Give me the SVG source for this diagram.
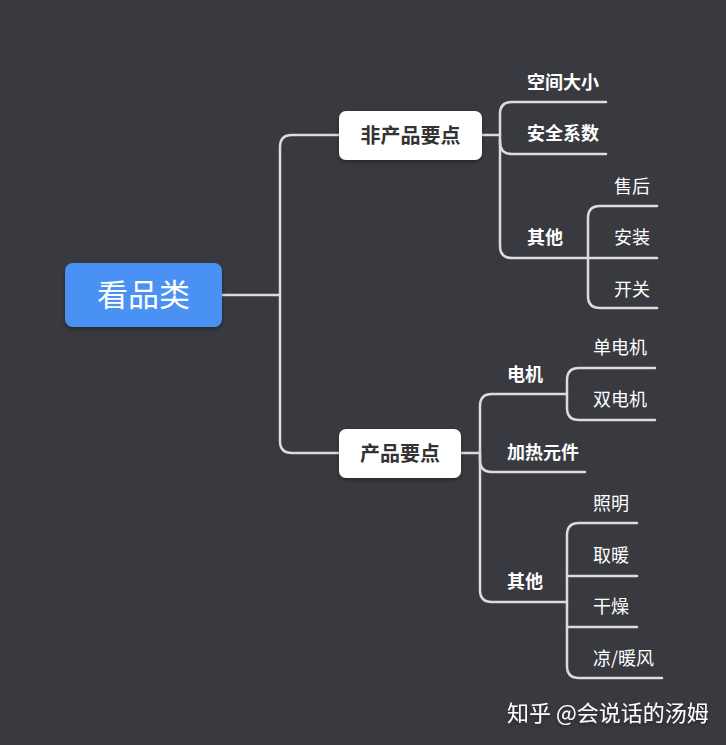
<svg xmlns="http://www.w3.org/2000/svg" width="726" height="745" viewBox="0 0 726 745">
<defs>
<filter id="sh" x="-20%" y="-20%" width="140%" height="150%"><feDropShadow dx="0" dy="2" stdDeviation="2" flood-color="#000" flood-opacity="0.35"/></filter>
</defs>
<style>
.ln{fill:none;stroke:#dcdcdc;stroke-width:2.5;stroke-linecap:round}
text{font-family:"Noto Sans CJK SC","Noto Sans",sans-serif;dominant-baseline:central}
.b{fill:#ffffff;font-weight:bold;font-size:18px}
.r{fill:#ffffff;font-size:18px}
.bx{fill:#333333;font-weight:bold;font-size:20px;text-anchor:middle}
</style>
<rect width="726" height="745" fill="#383a3f"/>
<g id="connectors">
<path class="ln" d="M222,295 H280"/>
<path class="ln" d="M340,135 H292 Q280,135 280,147 V441 Q280,453 292,453 H339"/>
<path class="ln" d="M482,135 H500"/>
<path class="ln" d="M606,102 H512 Q500,102 500,114 V246 Q500,258 512,258 H657"/>
<path class="ln" d="M500,140 V142 Q500,154 512,154 H606"/>
<path class="ln" d="M657,206 H600 Q588,206 588,218 V296 Q588,308 600,308 H657"/>
<path class="ln" d="M461,453 H480"/>
<path class="ln" d="M655,368 H579 Q567,368 567,380 V408 Q567,420 579,420 H655"/>
<path class="ln" d="M567,394 H492 Q480,394 480,406 V590 Q480,602 492,602 H567"/>
<path class="ln" d="M480,455 V460 Q480,472 492,472 H585"/>
<path class="ln" d="M637,523 H579 Q567,523 567,535 V666 Q567,678 579,678 H662"/>
<path class="ln" d="M567,576 H637"/>
<path class="ln" d="M567,627 H637"/>
</g>
<g id="root">
<rect x="65" y="263" width="157" height="64" rx="8" fill="#4a92f3" filter="url(#sh)"/>
<text x="143.5" y="292" fill="#ffffff" font-size="31" text-anchor="middle">看品类</text>
</g>
<g id="n-fcp">
<rect x="339" y="111" width="143" height="49" rx="7" fill="#ffffff" filter="url(#sh)"/>
<text class="bx" x="410.5" y="134">非产品要点</text>
</g>
<g id="n-cp">
<rect x="339" y="429" width="122" height="49" rx="7" fill="#ffffff" filter="url(#sh)"/>
<text class="bx" x="400" y="452">产品要点</text>
</g>
<g id="n-kjdx"><text class="b" x="527" y="81">空间大小</text></g>
<g id="n-aqxs"><text class="b" x="527" y="132">安全系数</text></g>
<g id="n-qt1"><text class="b" x="527" y="236">其他</text></g>
<g id="n-sh"><text class="r" x="614" y="185">售后</text></g>
<g id="n-az"><text class="r" x="614" y="236">安装</text></g>
<g id="n-kg"><text class="r" x="614" y="288">开关</text></g>
<g id="n-dj"><text class="b" x="507" y="373">电机</text></g>
<g id="n-jr"><text class="b" x="507" y="451">加热元件</text></g>
<g id="n-qt2"><text class="b" x="507" y="580">其他</text></g>
<g id="n-ddj"><text class="r" x="593" y="346">单电机</text></g>
<g id="n-sdj"><text class="r" x="593" y="398">双电机</text></g>
<g id="n-zm"><text class="r" x="593" y="502">照明</text></g>
<g id="n-qn"><text class="r" x="593" y="554">取暖</text></g>
<g id="n-gz"><text class="r" x="593" y="605">干燥</text></g>
<g id="n-lnf"><text class="r" x="593" y="657">凉/暖风</text></g>
<text x="507" y="711" fill="#ffffff" font-size="22" style="font-family:'Noto Sans CJK SC',sans-serif" filter="url(#sh)">知乎 @会说话的汤姆</text>
</svg>
